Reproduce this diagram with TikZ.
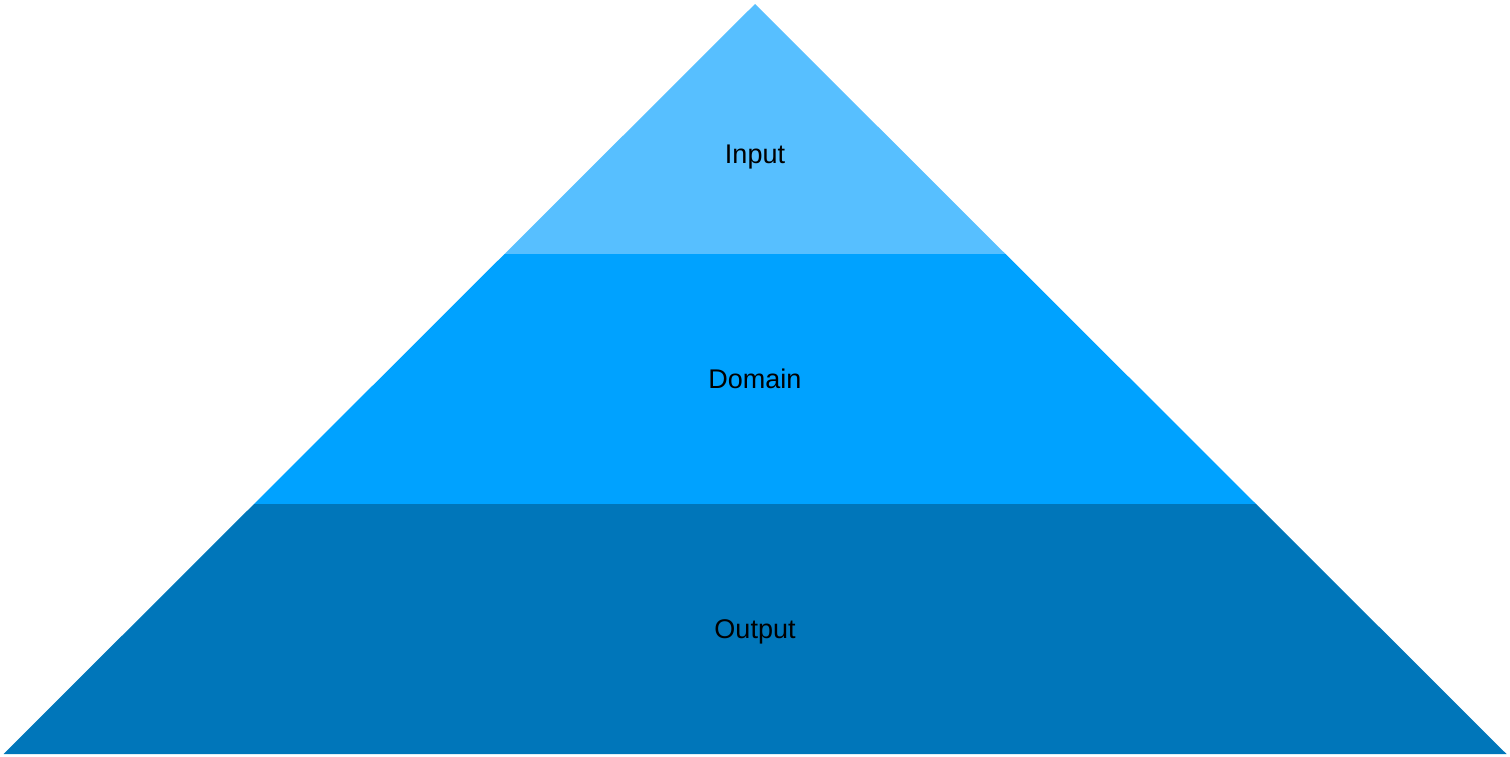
\documentclass[tikz,border=0pt]{standalone}
\usepackage{fontspec}
\setmainfont{Liberation Sans}
\usepackage{tikz}
\usetikzlibrary{positioning}

\definecolor{inputblue}{HTML}{57BFFF}
\definecolor{domainblue}{HTML}{00A2FF}
\definecolor{outputblue}{HTML}{0076BA}

\begin{document}
\begin{tikzpicture}[x=1pt,y=-1pt,label/.style={font=\fontsize{27}{31}\selectfont,text=black,anchor=base}]
\useasboundingbox (0,0) rectangle (1510,756);
% layers of the pyramid, top to bottom
\foreach \c/\t/\ly [count=\n] in {inputblue/Input/163,domainblue/Domain/388,outputblue/Output/638}
  {
  \fill[\c] ({755-250.5*(\n-1)},{4+250*(\n-1)}) -- ({755+250.5*(\n-1)},{4+250*(\n-1)})
        -- ({755+250.5*\n},{4+250*\n}) -- ({755-250.5*\n},{4+250*\n}) -- cycle;
  \node[label] (L\n) at (755,\ly) {\t};
  }
\end{tikzpicture}
\end{document}
